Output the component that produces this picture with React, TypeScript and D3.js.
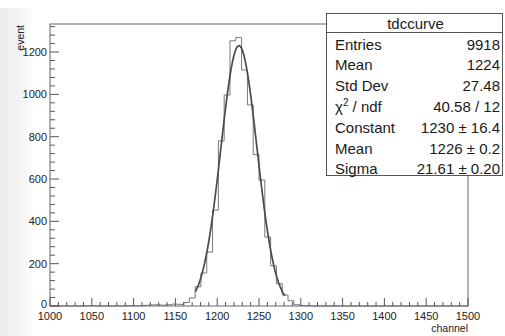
import React, { useEffect, useRef } from 'react'
import * as d3 from 'd3'

// histogram "tdccurve": 72 bins between 1000 and 1500
const binLow = 1000
const binHigh = 1500
const binCounts = [
  0, 0, 1, 0, 0, 0, 1, 2, 0, 1, 0, 1, 0, 2, 1, 1, 3, 5, 6, 4,
  6, 9, 8, 16, 38, 91, 156, 255, 453, 780, 997, 1253, 1269, 1115, 950, 715,
  595, 326, 190, 105, 52, 25, 6, 2, 1, 0, 1, 0, 0, 0,
  0, 0, 0, 0, 0, 0, 0, 0, 0, 0, 0, 0, 0, 0, 0, 0, 0, 0, 0, 0, 0, 0
]

const xTicks = [1000, 1050, 1100, 1150, 1200, 1250, 1300, 1350, 1400, 1450, 1500]
const yTicks = [0, 200, 400, 600, 800, 1000, 1200]

const statNames = ['Entries', 'Mean', 'Std Dev', 'chi2', 'Constant', 'Mean', 'Sigma']
const statValues = ['9918', '1224', '27.48', '40.58 / 12', '1230 ± 16.4', '1226 ± 0.2', '21.61 ± 0.20']

// gaus fit parameters and range
const fitConstant = 1230
const fitMean = 1226
const fitSigma = 21.61
const fitRange = [1174, 1281]

const font = '"Liberation Sans", Arial, sans-serif'

export default function App() {
  const ref = useRef<SVGSVGElement>(null)

  useEffect(() => {
    const svg = d3.select(ref.current)
    svg.selectAll('*').remove()

    const left = 50, right = 468, top = 24, bottom = 306
    const ymax = 1.05 * (d3.max(binCounts) as number)
    const x = d3.scaleLinear().domain([binLow, binHigh]).range([left, right])
    const y = d3.scaleLinear().domain([0, ymax]).range([bottom, top])

    // soft grey band on the left (canvas edge)
    const grad = svg.append('defs').append('linearGradient').attr('id', 'edge')
    grad.append('stop').attr('offset', '0%').attr('stop-color', '#ededed')
    grad.append('stop').attr('offset', '70%').attr('stop-color', '#f4f4f4')
    grad.append('stop').attr('offset', '100%').attr('stop-color', '#ffffff')
    svg.append('rect').attr('x', 0).attr('y', 8).attr('width', 32).attr('height', 328).attr('fill', 'url(#edge)')

    // histogram
    const bw = (binHigh - binLow) / binCounts.length
    let p = `M${x(binLow)},${y(0)}`
    binCounts.forEach((v, i) => {
      p += `V${y(v)}H${x(binLow + (i + 1) * bw)}`
    })
    p += `V${y(0)}`
    svg.append('path').attr('d', p).attr('fill', 'none').attr('stroke', '#777').attr('stroke-width', 1)

    // fit
    const gaus = (c: number) => fitConstant * Math.exp(-0.5 * ((c - fitMean) / fitSigma) ** 2)
    const pts = d3.range(fitRange[0], fitRange[1] + 0.01, 0.5)
    const line = d3.line<number>().x(c => x(c)).y(c => y(gaus(c)))
    svg.append('path').attr('d', line(pts)).attr('fill', 'none').attr('stroke', '#4a4a4a').attr('stroke-width', 1.7)

    // frame
    svg.append('rect').attr('x', left).attr('y', top).attr('width', right - left).attr('height', bottom - top)
      .attr('fill', 'none').attr('stroke', '#666').attr('stroke-width', 1)

    const ax = svg.append('g').attr('stroke', '#555').attr('stroke-width', 1)
    // x ticks
    d3.range(binLow, binHigh + 0.1, 10).forEach(t => {
      const major = t % 50 === 0
      ax.append('line').attr('x1', x(t)).attr('x2', x(t)).attr('y1', bottom).attr('y2', bottom - (major ? 8 : 4))
    })
    // y ticks
    d3.range(0, ymax, 40).forEach(t => {
      const major = t % 200 === 0
      ax.append('line').attr('x1', left).attr('x2', left + (major ? 9 : 5)).attr('y1', y(t)).attr('y2', y(t))
    })

    svg.append('g').selectAll('text').data(xTicks).join('text')
      .attr('x', d => x(d)).attr('y', bottom + 14).attr('text-anchor', 'middle')
      .attr('font-size', 11).attr('font-family', font).attr('fill', '#222').text(d => d)

    svg.append('g').selectAll('text').data(yTicks).join('text')
      .attr('x', left - 3).attr('y', d => y(d) + (d === 0 ? 2 : 4)).attr('text-anchor', 'end')
      .attr('font-size', 11).attr('font-family', font).attr('fill', '#222').text(d => d)

    svg.append('text').attr('x', right).attr('y', 332).attr('text-anchor', 'end')
      .attr('font-size', 10.5).attr('font-family', font).attr('fill', '#222').text('channel')
    svg.append('text').attr('transform', `translate(24,${top + 1}) rotate(-90)`).attr('text-anchor', 'end')
      .attr('font-size', 10.5).attr('font-family', font).attr('fill', '#222').text('event')

    // stats box
    const bx0 = 326.5, bx1 = 502.5, by0 = 13.5, by1 = 175.5
    const box = svg.append('g').attr('font-family', font).attr('font-size', 15).attr('fill', '#1a1a1a')
    box.append('rect').attr('x', bx0).attr('y', by0).attr('width', bx1 - bx0).attr('height', by1 - by0)
      .attr('fill', '#fff').attr('stroke', '#555').attr('stroke-width', 1)
    box.append('line').attr('x1', bx0).attr('x2', bx1).attr('y1', 32.5).attr('y2', 32.5).attr('stroke', '#555')
    box.append('text').attr('x', (bx0 + bx1) / 2 + 1).attr('y', 28.5).attr('text-anchor', 'middle').text('tdccurve')

    statNames.forEach((n, i) => {
      const ty = 49.5 + i * 20.8
      const t = box.append('text').attr('x', 335).attr('y', ty)
      if (n === 'chi2') {
        t.append('tspan').text('χ')
        t.append('tspan').attr('font-size', 10).attr('dy', -6).text('2')
        t.append('tspan').attr('dy', 6).text(' / ndf')
      } else {
        t.text(n)
      }
      box.append('text').attr('x', 500).attr('y', ty).attr('text-anchor', 'end').text(statValues[i])
    })
  }, [])

  return (
    <svg ref={ref} width={505} height={336}
      style={{ position: 'absolute', left: 0, top: 0, background: '#fff' }} />
  )
}
